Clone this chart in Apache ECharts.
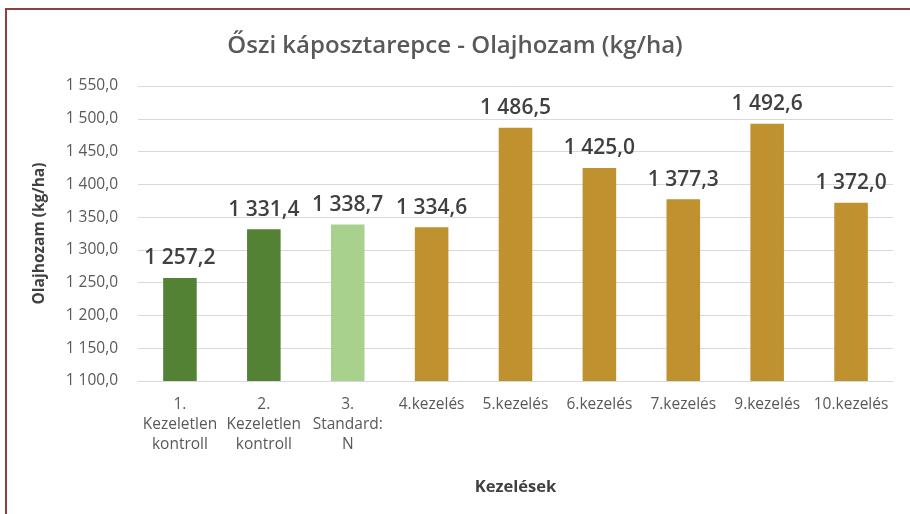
<!DOCTYPE html>
<html>
<head>
<meta charset="utf-8">
<script src="https://cdn.jsdelivr.net/npm/echarts@6/dist/echarts.min.js"></script>
<style>
  html, body { margin: 0; padding: 0; background: #fff; }
  #frame {
    position: absolute; left: 5px; top: 8px; width: 905px; height: 506px;
    border-top: 2px solid #8e3f3f; border-left: 2px solid #8e3f3f;
    box-sizing: border-box;
  }
  #chart { width: 910px; height: 514px; position: absolute; left: 0; top: 0; }
</style>
</head>
<body>
<div id="frame"></div>
<div id="chart"></div>
<script>
const categories = [
  "1.\nKezeletlen\nkontroll",
  "2.\nKezeletlen\nkontroll",
  "3.\nStandard:\nN",
  "4.kezelés",
  "5.kezelés",
  "6.kezelés",
  "7.kezelés",
  "9.kezelés",
  "10.kezelés"
];
const values = [1257.2, 1331.4, 1338.7, 1334.6, 1486.5, 1425.0, 1377.3, 1492.6, 1372.0];
const barColors = ["#548235", "#548235", "#a9d18e", "#c0912f", "#c0912f", "#c0912f", "#c0912f", "#c0912f", "#c0912f"];

const fontFamily = "'Open Sans', Lato, sans-serif";

// 1 550,0 style formatting
function huFormat(v) {
  let parts = Number(v).toFixed(1).split(".");
  let intPart = parts[0].replace(/\B(?=(\d{3})+(?!\d))/g, " ");
  return intPart + "," + parts[1];
}

const myChart = echarts.init(document.getElementById("chart"));
const option = {
  backgroundColor: "transparent",
  textStyle: { fontFamily: fontFamily },
  title: {
    text: "Őszi káposztarepce - Olajhozam (kg/ha)",
    left: "center",
    top: 29,
    textStyle: { color: "#595959", fontSize: 24, fontWeight: 600, fontFamily: fontFamily }
  },
  grid: { left: 138, right: 17, top: 86, bottom: 133 },
  xAxis: {
    type: "category",
    data: categories,
    name: "Kezelések",
    nameLocation: "middle",
    nameGap: 98,
    nameTextStyle: { color: "#404040", fontSize: 16.5, fontWeight: "bold" },
    axisLine: { lineStyle: { color: "#d9d9d9" } },
    axisTick: { show: false },
    axisLabel: { interval: 0, color: "#595959", fontSize: 15.5, lineHeight: 20, margin: 14 }
  },
  yAxis: {
    type: "value",
    min: 1100,
    max: 1550,
    interval: 50,
    name: "Olajhozam (kg/ha)",
    nameLocation: "middle",
    nameGap: 90,
    nameTextStyle: { color: "#404040", fontSize: 15.5, fontWeight: "bold" },
    axisLine: { show: false },
    axisTick: { show: false },
    axisLabel: { color: "#595959", fontSize: 15.5, margin: 20, formatter: huFormat },
    splitLine: { lineStyle: { color: "#d9d9d9" } }
  },
  series: [
    {
      type: "bar",
      barWidth: "40%",
      data: values.map((v, i) => ({ value: v, itemStyle: { color: barColors[i] } })),
      label: {
        show: true,
        position: "top",
        distance: 9,
        color: "#404040",
        fontSize: 21,
        fontWeight: 600,
        formatter: p => huFormat(p.value)
      }
    }
  ]
};
myChart.setOption(option);
</script>
</body>
</html>
